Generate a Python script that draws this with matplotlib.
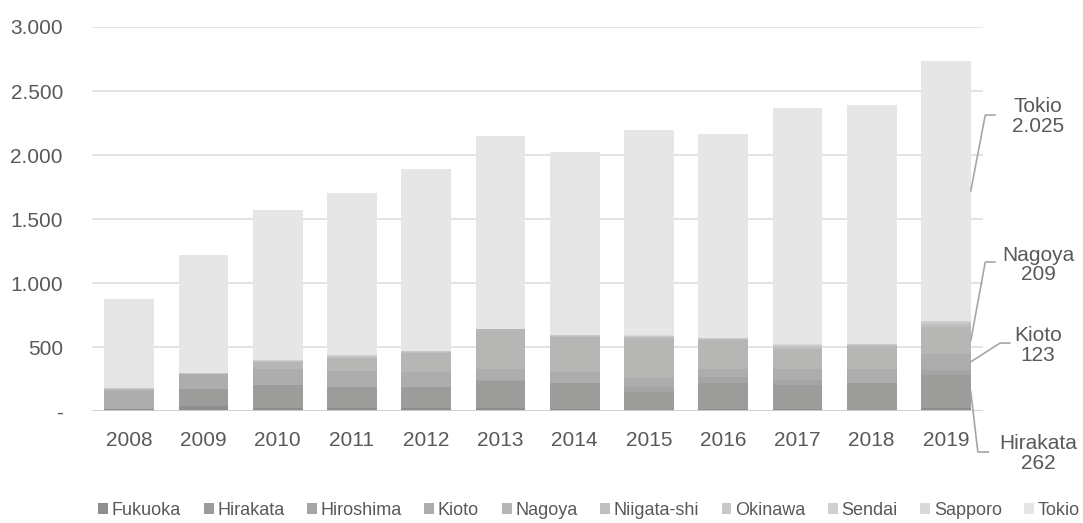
import numpy as np
import matplotlib.pyplot as plt
from matplotlib.ticker import FuncFormatter

plt.rcParams['font.family'] = ['Liberation Sans', 'DejaVu Sans']

years = ['2008', '2009', '2010', '2011', '2012', '2013',
         '2014', '2015', '2016', '2017', '2018', '2019']

cities = ['Fukuoka', 'Hirakata', 'Hiroshima', 'Kioto', 'Nagoya',
          'Niigata-shi', 'Okinawa', 'Sendai', 'Sapporo', 'Tokio']

fukuoka = [23, 40, 31, 26, 26, 26, 21, 13, 23, 16, 13, 25]
hirakata = [0, 133, 172, 166, 166, 213, 203, 140, 203, 187, 211, 262]
hiroshima = [0, 0, 0, 0, 0, 8, 0, 39, 47, 39, 0, 39]
kioto = [148, 117, 125, 125, 117, 86, 86, 70, 55, 86, 109, 123]
nagoya = [0, 0, 55, 101, 148, 307, 273, 315, 226, 156, 179, 209]
niigata = [6, 5, 8, 10, 8, 4, 8, 8, 12, 20, 8, 23]
okinawa = [4, 3, 5, 8, 5, 3, 5, 5, 8, 15, 5, 19]
sendai = [0, 0, 2, 3, 2, 0, 2, 2, 2, 2, 2, 5]
sapporo = [0, 0, 2, 2, 1, 0, 1, 1, 1, 2, 1, 4]
tokio = [698, 925, 1175, 1260, 1416, 1499, 1423, 1601, 1587, 1845, 1861, 2025]

series = [fukuoka, hirakata, hiroshima, kioto, nagoya,
          niigata, okinawa, sendai, sapporo, tokio]
colors = ['#8e8e8e', '#9c9c9b', '#a5a5a5', '#adadad', '#b6b6b5',
          '#bfbfbf', '#c8c8c8', '#d0d0d0', '#d9d9d9', '#e6e6e6']

# callouts on the 2019 bar: (city, text, leader line points in data coords)
callouts = [
    ('Tokio', 'Tokio\n2.025', [(11.53, 2313), (11.66, 2313)], (12.24, 2300)),
    ('Nagoya', 'Nagoya\n209', [(11.53, 1166), (11.66, 1166)], (12.24, 1143)),
    ('Kioto', 'Kioto\n123', [(11.73, 534), (11.86, 534)], (12.24, 515)),
    ('Hirakata', 'Hirakata\n262', [(11.43, -316), (11.57, -316)], (12.24, -328)),
]

txt = '#595959'
x = np.arange(len(years))
width = 0.67

fig = plt.figure(figsize=(10.83, 5.23), dpi=100)
ax = fig.add_axes([0.085, 0.2132, 0.8227, 0.7352])

bottom = np.zeros(len(years))
mids = {}
for name, vals, c in zip(cities, series, colors):
    vals = np.array(vals, dtype=float)
    ax.bar(x, vals, width, bottom=bottom, color=c, label=name, zorder=2, linewidth=0)
    mids[name] = bottom[-1] + vals[-1] / 2
    bottom += vals

ax.set_xlim(-0.5, 11.5)
ax.set_ylim(0, 3000)
ax.set_yticks(np.arange(0, 3001, 500))
ax.yaxis.set_major_formatter(FuncFormatter(
    lambda v, p: '-' if v == 0 else f'{int(v):,}'.replace(',', '.')))
ax.set_xticks(x)
ax.set_xticklabels(years)
ax.tick_params(axis='both', length=0, labelsize=15, colors=txt)
ax.tick_params(axis='y', pad=21)
ax.tick_params(axis='x', pad=14)
ax.grid(axis='y', color='#dedede', linewidth=1.2, zorder=0)
ax.axhline(0, color='#d0d0d0', linewidth=1.3, zorder=3)
for s in ax.spines.values():
    s.set_visible(False)

edge = x[-1] + width / 2
for name, label, pts, tpos in callouts:
    xs = [edge] + [p[0] for p in pts]
    ys = [mids[name]] + [p[1] for p in pts]
    ax.plot(xs, ys, color='#a6a6a6', linewidth=1.2, clip_on=False, zorder=4)
    ax.text(tpos[0], tpos[1], label, ha='center', va='center', fontsize=15,
            color=txt, linespacing=1.05, clip_on=False)

leg = fig.legend(loc='center', bbox_to_anchor=(0.544, 0.024), ncol=10, frameon=False,
                 fontsize=13, handlelength=0.55, handleheight=0.55,
                 handletextpad=0.2, columnspacing=1.25, borderpad=0)
for t in leg.get_texts():
    t.set_color(txt)

fig.savefig('out.png', dpi=100)
